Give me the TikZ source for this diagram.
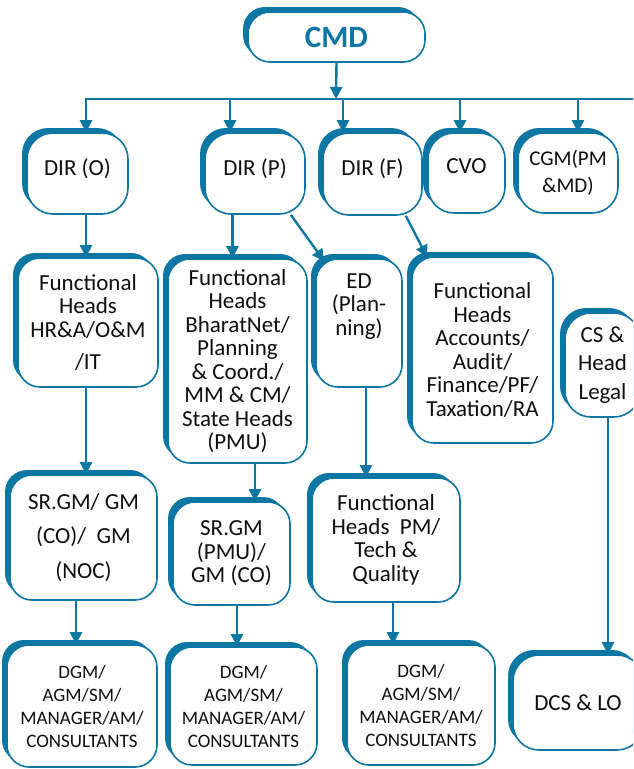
\documentclass[tikz,border=0pt]{standalone}
\usepackage{fontspec}
\setmainfont{Carlito}
\usepackage{tikz}
\usetikzlibrary{arrows.meta,positioning,shadows}
\definecolor{BNblue}{RGB}{14,118,162}
\definecolor{BNtext}{RGB}{15,15,15}
\tikzset{
  unit/.style={rounded corners=22pt,draw=BNblue,line width=1.6pt,fill=white,
               text=BNtext,align=center,inner sep=0pt,
               font=\fontsize{23}{23.5}\selectfont,
               drop shadow={shadow xshift=-5pt,shadow yshift=5pt,fill=BNblue,opacity=1}},
  staff/.style={unit,font=\fontsize{19}{23}\selectfont},
  sz/.style 2 args={minimum width=#1pt,minimum height=#2pt},
  fl/.style={-{Triangle[length=12pt,width=12pt]},line width=2.4pt,draw=BNblue},
  busline/.style={line width=2.4pt,draw=BNblue}
}
\begin{document}
\begin{tikzpicture}[x=1pt,y=-1pt]
  \useasboundingbox (0,0) rectangle (633,769);
  \clip (0,0) rectangle (633,769);
  % top
  \node[unit,sz={177}{50},rounded corners=22pt,text=BNblue,
        font=\fontsize{31}{31}\selectfont\bfseries] (cmd) at (336.5,37) {CMD};
  \coordinate (bus) at (336,99);
  \coordinate (busR) at (640,99);
  \coordinate (d1) at (86,99);
  \coordinate (d2) at (230,99);
  \coordinate (d3) at (343,99);
  \coordinate (d4) at (460,99);
  \coordinate (d5) at (578,99);
  % directors
  \node[unit,sz={101}{81},rounded corners=26pt] (dirO) at (77.5,173.5) {DIR (O)\\[-10pt]\mbox{}};
  \node[unit,sz={100}{81},rounded corners=26pt] (dirP) at (255,173.5) {DIR (P)\\[-10pt]\mbox{}};
  \node[unit,sz={99}{82},rounded corners=26pt] (dirF) at (372.5,174) {DIR (F)\\[-10pt]\mbox{}};
  \node[unit,sz={77}{80},rounded corners=26pt] (cvo) at (466.5,173) {CVO\\[-10pt]\mbox{}};
  \node[unit,sz={100}{80},rounded corners=26pt,font=\fontsize{21}{27}\selectfont] (cgm) at (568,173) {CGM(PM\\\&MD)};
  % functional heads
  \node[unit,sz={140}{129}] (fhA) at (88,322.5) {Functional\\Heads\\HR\&A/O\&M\\[9pt]/IT};
  \node[unit,sz={139}{204}] (fhB) at (237.5,361) {Functional\\Heads\\BharatNet/\\Planning\\\& Coord./\\MM \& CM/\\State Heads\\(PMU)};
  \node[unit,sz={86}{128}] (ed) at (359,323) {ED\\(Plan-\\ning)\\[14pt]\mbox{}};
  \node[unit,sz={141}{186}] (fhC) at (482.5,350) {Functional\\Heads\\Accounts/\\Audit/\\Finance/PF/\\Taxation/RA};
  \node[unit,sz={75}{104},rounded corners=26pt] (cs) at (602.5,365) {CS \&\\[5pt]Head\\[5pt]Legal};
  % general managers
  \node[unit,sz={147}{125}] (srA) at (83.5,537.5) {SR.GM/ GM\\[11pt](CO)/~ GM\\[11pt](NOC)};
  \node[unit,sz={117}{103}] (srB) at (231.5,553.5) {SR.GM\\(PMU)/\\GM (CO)};
  \node[unit,sz={148}{124}] (fhPM) at (386,540) {Functional\\Heads~ PM/\\Tech \&\\Quality};
  % staff
  \node[staff,sz={150}{122}] (dgmA) at (82,706) {DGM/\\AGM/SM/\\MANAGER/AM/\\CONSULTANTS};
  \node[staff,sz={147}{118}] (dgmB) at (243.5,706) {DGM/\\AGM/SM/\\MANAGER/AM/\\CONSULTANTS};
  \node[staff,sz={148}{120}] (dgmC) at (421,705) {DGM/\\AGM/SM/\\MANAGER/AM/\\CONSULTANTS};
  \node[unit,sz={130}{95},rounded corners=26pt] (dcs) at (578,702.5) {DCS \& LO};
  % connectors
  \draw[fl] (cmd.south) -- (bus);
  \draw[fl] (busR) -- (d1) -- (d1 |- dirO.north);
  \draw[fl] (d2) -- (d2 |- dirP.north);
  \draw[fl] (d3) -- (d3 |- dirF.north);
  \draw[fl] (d4) -- (d4 |- cvo.north);
  \draw[fl] (d5) -- (d5 |- cgm.north);
  \draw[fl] ([xshift=-2pt]fhA.north |- dirO.south) -- ([xshift=-2pt]fhA.north);
  \draw[fl] ([xshift=-5pt]fhB.north |- dirP.south) -- ([xshift=-5pt]fhB.north);
  \draw[fl] ([xshift=-15pt]dirP.south east) -- ([xshift=9pt,yshift=-3pt]ed.north west);
  \draw[fl] ([xshift=-17pt]dirF.south east) -- ([xshift=16pt,yshift=-1pt]fhC.north west);
  \draw[fl] ([xshift=2.5pt]srA.north |- fhA.south) -- ([xshift=2.5pt]srA.north);
  \draw[fl] ([xshift=17.5pt]fhB.south) -- ([xshift=17.5pt]fhB.south |- srB.north);
  \draw[fl] ([xshift=7pt]ed.south) -- ([xshift=7pt]ed.south |- fhPM.north);
  \draw[fl] ([xshift=-7.5pt]srA.south) -- ([xshift=-7.5pt]srA.south |- dgmA.north);
  \draw[fl] ([xshift=5.5pt]srB.south) -- ([xshift=5.5pt]srB.south |- dgmB.north);
  \draw[fl] ([xshift=7pt]fhPM.south) -- ([xshift=7pt]fhPM.south |- dgmC.north);
  \draw[fl] ([xshift=5.5pt]cs.south) -- ([xshift=5.5pt]cs.south |- dcs.north);
\end{tikzpicture}
\end{document}
